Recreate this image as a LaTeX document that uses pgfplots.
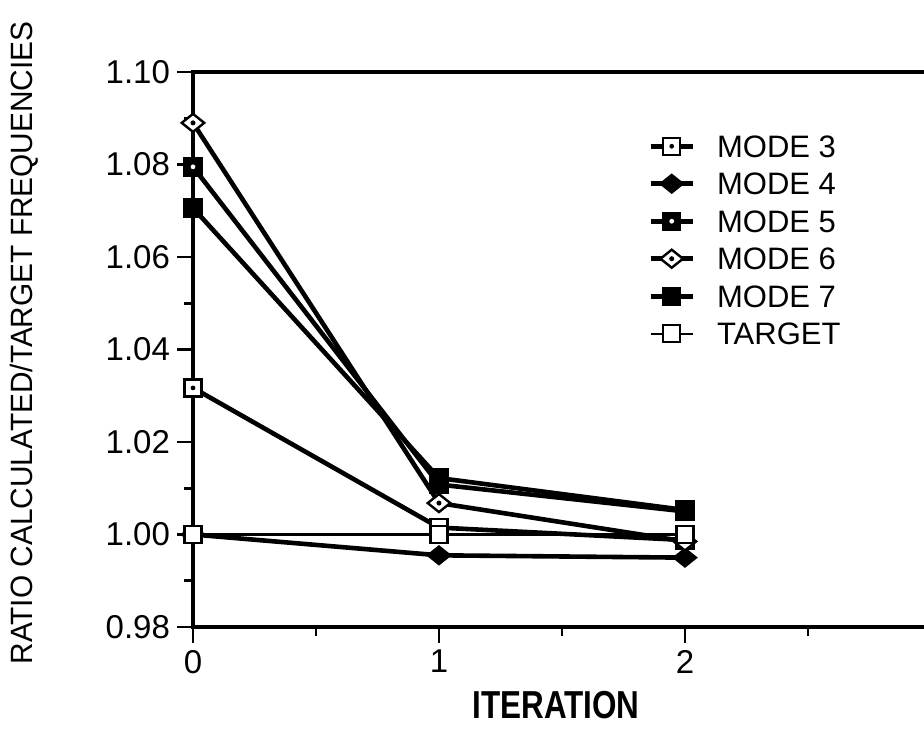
\documentclass[border=0pt]{standalone}
\usepackage{fontspec}
\setmainfont{Liberation Sans}
\usepackage{graphicx}
\usepackage{pgfplots}
\pgfplotsset{compat=1.18}

% custom marks
\pgfdeclareplotmark{sqdot}{%
  \pgfpathrectangle{\pgfqpoint{-\pgfplotmarksize}{-\pgfplotmarksize}}{\pgfqpoint{2\pgfplotmarksize}{2\pgfplotmarksize}}%
  \pgfsetfillcolor{white}\pgfusepathqfillstroke
  \pgfpathcircle{\pgfpointorigin}{0.28\pgfplotmarksize}%
  \pgfsetfillcolor{black}\pgfusepathqfill}
\pgfdeclareplotmark{sqblkdot}{%
  \pgfpathrectangle{\pgfqpoint{-\pgfplotmarksize}{-\pgfplotmarksize}}{\pgfqpoint{2\pgfplotmarksize}{2\pgfplotmarksize}}%
  \pgfsetfillcolor{black}\pgfusepathqfillstroke
  \pgfpathcircle{\pgfpointorigin}{0.28\pgfplotmarksize}%
  \pgfsetfillcolor{white}\pgfusepathqfill}
\pgfdeclareplotmark{sqopen}{%
  \pgfpathrectangle{\pgfqpoint{-\pgfplotmarksize}{-\pgfplotmarksize}}{\pgfqpoint{2\pgfplotmarksize}{2\pgfplotmarksize}}%
  \pgfsetfillcolor{white}\pgfusepathqfillstroke}
\pgfdeclareplotmark{sqfull}{%
  \pgfpathrectangle{\pgfqpoint{-\pgfplotmarksize}{-\pgfplotmarksize}}{\pgfqpoint{2\pgfplotmarksize}{2\pgfplotmarksize}}%
  \pgfsetfillcolor{black}\pgfusepathqfillstroke}
\pgfdeclareplotmark{diafull}{%
  \pgfpathmoveto{\pgfqpoint{1.25\pgfplotmarksize}{0pt}}%
  \pgfpathlineto{\pgfqpoint{0pt}{\pgfplotmarksize}}%
  \pgfpathlineto{\pgfqpoint{-1.25\pgfplotmarksize}{0pt}}%
  \pgfpathlineto{\pgfqpoint{0pt}{-\pgfplotmarksize}}%
  \pgfpathclose
  \pgfsetfillcolor{black}\pgfusepathqfillstroke}
\pgfdeclareplotmark{diadot}{%
  \pgfpathmoveto{\pgfqpoint{1.25\pgfplotmarksize}{0pt}}%
  \pgfpathlineto{\pgfqpoint{0pt}{\pgfplotmarksize}}%
  \pgfpathlineto{\pgfqpoint{-1.25\pgfplotmarksize}{0pt}}%
  \pgfpathlineto{\pgfqpoint{0pt}{-\pgfplotmarksize}}%
  \pgfpathclose
  \pgfsetfillcolor{white}\pgfusepathqfillstroke
  \pgfpathcircle{\pgfpointorigin}{0.28\pgfplotmarksize}%
  \pgfsetfillcolor{black}\pgfusepathqfill}

\begin{document}
\begin{tikzpicture}
\useasboundingbox (0,0) rectangle (462pt,370pt);
\begin{axis}[
  at={(96.5pt,56.5pt)}, anchor=south west,
  scale only axis, width=366.5pt, height=277.5pt,
  xmin=0, xmax=2.98, ymin=0.98, ymax=1.10,
  xtick={0,1,2}, minor xtick={0.5,1.5,2.5},
  ytick={0.98,1.00,1.02,1.04,1.06,1.08,1.10},
  minor ytick={0.99,1.01,1.03,1.05,1.07,1.09},
  yticklabel style={/pgf/number format/.cd, fixed, fixed zerofill, precision=2},
  /pgf/number format/assume math mode=true,
  tick align=outside, xtick pos=bottom, ytick pos=left,
  major tick length=8pt, minor tick length=4.5pt,
  every tick/.style={black, line width=1.4pt},
  axis line style={line width=1.6pt},
  ticklabel style={font=\fontsize{16.5}{16.5}\selectfont},
  clip=false,
  legend cell align=left,
  legend image code/.code={\draw[mark repeat=2, mark phase=2] plot coordinates {(0cm,0cm) (0.37cm,0cm) (0.74cm,0cm)};},
  legend style={at={(0.6125,0.894)}, anchor=north west, draw=none, fill=none,
    font=\fontsize{15.5}{15.5}\selectfont, row sep=7.75pt, column sep=11pt,
    nodes={inner sep=0pt, text height=11pt, text depth=0pt}},
]
\addplot[black, line width=2.3pt, mark=sqdot, mark size=4.25pt, mark options={line width=1.2pt}]
  coordinates {(0,1.0317) (1,1.0015) (2,0.9988)};
\addlegendentry{MODE 3}
\addplot[black, line width=2.3pt, mark=diafull, mark size=4.5pt, mark options={line width=1pt}]
  coordinates {(0,1.0000) (1,0.9955) (2,0.9950)};
\addlegendentry{MODE 4}
\addplot[black, line width=2.3pt, mark=sqblkdot, mark size=4.25pt, mark options={line width=1.2pt}]
  coordinates {(0,1.0795) (1,1.0108) (2,1.0050)};
\addlegendentry{MODE 5}
\addplot[black, line width=2.3pt, mark=diadot, mark size=4.5pt, mark options={line width=1.2pt}]
  coordinates {(0,1.0890) (1,1.0068) (2,0.9985)};
\addlegendentry{MODE 6}
\addplot[black, line width=2.3pt, mark=sqfull, mark size=4.25pt, mark options={line width=1.2pt}]
  coordinates {(0,1.0706) (1,1.0122) (2,1.0053)};
\addlegendentry{MODE 7}
\addplot[black, line width=1.2pt, mark=sqopen, mark size=4.25pt, mark options={line width=1.2pt}]
  coordinates {(0,1.0000) (1,1.0000) (2,1.0000)};
\addlegendentry{TARGET}
\end{axis}
\node[rotate=90] at (12pt,198.5pt)
  {\fontsize{15.4}{15.4}\selectfont\resizebox{321.5pt}{\height}{RATIO CALCULATED/TARGET FREQUENCIES}};
\node[anchor=base] at (278pt,11pt)
  {\fontsize{19.5}{19.5}\selectfont\bfseries\resizebox{83.5pt}{\height}{ITERATION}};
\end{tikzpicture}
\end{document}
